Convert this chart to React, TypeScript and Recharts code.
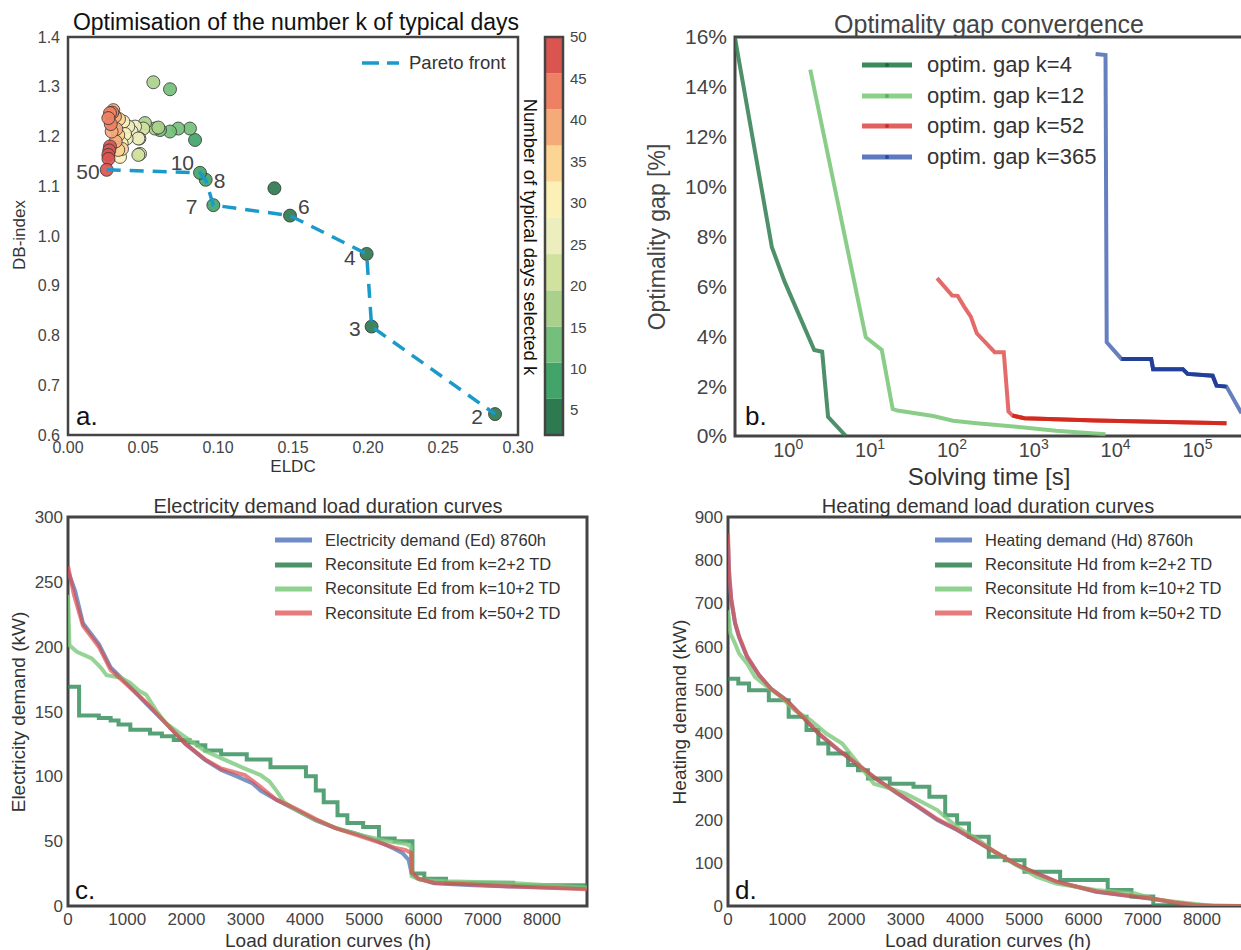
import React from "react";
import { ScatterChart, Scatter, LineChart, Line, XAxis, YAxis, ReferenceArea, Legend } from "recharts";

const FONT = '"Liberation Sans", Arial, Helvetica, sans-serif';
const FRAME = "#444444";
const TICK = "#444444";

// ---- a. choice of k ----
const kDays = [2, 3, 4, 5, 6, 7, 8, 9, 10, 11, 12, 13, 14, 15, 16, 17, 18, 19, 20, 21, 22, 23, 24, 25, 26,
  27, 28, 29, 30, 31, 32, 33, 34, 35, 36, 37, 38, 39, 40, 41, 42, 43, 44, 45, 46, 47, 48, 49, 50];
const eldc = [0.2847, 0.2024, 0.1991, 0.1376, 0.148, 0.0969, 0.0918, 0.0847, 0.088, 0.0813, 0.0735, 0.068,
  0.068, 0.0613, 0.058, 0.0569, 0.0602, 0.0513, 0.0502, 0.048, 0.0476, 0.0469, 0.0447, 0.0424, 0.0469,
  0.0391, 0.0402, 0.0369, 0.038, 0.0358, 0.0347, 0.036, 0.0335, 0.0335, 0.034, 0.0313, 0.0322, 0.0302,
  0.0318, 0.0291, 0.0295, 0.028, 0.0285, 0.0269, 0.028, 0.0275, 0.0269, 0.027, 0.0258];
const dbIndex = [0.642, 0.818, 0.964, 1.096, 1.041, 1.062, 1.113, 1.193, 1.127, 1.216, 1.216, 1.295,
  1.21, 1.213, 1.216, 1.309, 1.218, 1.227, 1.216, 1.165, 1.196, 1.163, 1.22, 1.21, 1.196, 1.196, 1.22,
  1.23, 1.205, 1.186, 1.159, 1.175, 1.203, 1.173, 1.235, 1.24, 1.215, 1.253, 1.19, 1.21, 1.248, 1.247,
  1.225, 1.237, 1.18, 1.172, 1.163, 1.155, 1.133];
const paretoDays = [50, 10, 8, 7, 6, 4, 3, 2];
const eldcTicks = [0, 0.05, 0.1, 0.15, 0.2, 0.25, 0.3];
const dbTicks = [0.6, 0.7, 0.8, 0.9, 1.0, 1.1, 1.2, 1.3, 1.4];
const cbEdges = [2, 6.36, 10.73, 15.09, 19.45, 23.82, 28.18, 32.55, 36.91, 41.27, 45.64, 50];
const cbColors = ["#2e7a50", "#43a46a", "#74bf7b", "#a9d18b", "#d1e29e", "#edeec0", "#fbf1b7",
  "#fcd595", "#f5aa79", "#ee8063", "#da5550"];
const cbTicks = [5, 10, 15, 20, 25, 30, 35, 40, 45, 50];

// ---- b. optimality gap ----
const gapK4T = [0.224, 0.632, 0.904, 2.08, 2.6, 3.07, 5.07];
const gapK4 = [15.96, 7.57, 6.19, 3.45, 3.38, 0.77, 0];
const gapK12T = [1.86, 8.86, 13.9, 18.9, 21.6, 59, 103, 201, 612, 1866, 7520];
const gapK12 = [14.69, 3.96, 3.45, 1.08, 1.02, 0.8, 0.61, 0.51, 0.37, 0.21, 0.07];
const gapK52T = [65.9, 100.7, 117.7, 141, 170, 201, 333, 430, 491, 549, 767, 5690, 226000];
const gapK52 = [6.33, 5.63, 5.62, 5.19, 4.79, 4.12, 3.36, 3.36, 0.98, 0.82, 0.71, 0.62, 0.51];
const gapK365T = [5690, 7520, 7780, 11770, 27200, 28700, 66200, 75700, 153000, 171000, 226000, 345000];
const gapK365 = [15.32, 15.28, 3.76, 3.09, 3.09, 2.68, 2.68, 2.49, 2.42, 2.02, 1.98, 0.91];
const gapXTicks = [1, 10, 100, 1000, 10000, 100000];
const gapYTicks = [0, 2, 4, 6, 8, 10, 12, 14, 16];

// ---- c. electricity load duration ----
const hourTicks = [0, 1000, 2000, 3000, 4000, 5000, 6000, 7000, 8000];
const elecTicks = [0, 50, 100, 150, 200, 250, 300];
const edFull = [[0, 258], [120, 243], [253, 218], [520, 202], [720, 184], [986, 172], [1320, 156], [1650, 141],
  [1985, 125], [2318, 112.5], [2585, 105], [2850, 100], [3117, 94.5], [3250, 89], [3517, 82], [3850, 74],
  [4183, 66], [4515, 60], [4850, 56], [5180, 51], [5515, 44], [5650, 40.6], [5750, 35.5], [5800, 25],
  [5915, 21], [6180, 17.5], [6847, 16], [7513, 15], [8760, 13.5]];
const edK2 = [[0, 169], [187, 147], [520, 145], [720, 143], [853, 140], [1052, 136], [1385, 133], [1585, 131],
  [1785, 128], [2051, 126], [2185, 124], [2318, 120], [2584, 117], [3017, 113], [3417, 107], [4016, 100],
  [4183, 89], [4316, 80], [4549, 70], [4715, 64], [4982, 61], [5248, 52], [5514, 50], [5814, 25],
  [6014, 21], [6380, 18], [7513, 16], [8760, 15]];
const edK10 = [[0, 240], [25, 201], [150, 196], [400, 191], [550, 184], [650, 178], [900, 176], [1050, 172],
  [1200, 166], [1320, 163], [1500, 150], [1650, 141], [1985, 130], [2300, 120], [2585, 114], [2985, 106],
  [3250, 101], [3400, 96], [3517, 89], [3650, 80], [3850, 74], [4200, 66], [4600, 59], [5000, 54],
  [5400, 50], [5700, 48], [5790, 46], [5800, 23], [5950, 20], [6400, 19], [7400, 18], [8760, 14]];
const edK50 = [[0, 262], [100, 240], [253, 216], [520, 200], [720, 182], [986, 171], [1320, 157], [1650, 141],
  [1985, 125], [2318, 113], [2585, 106], [2985, 101], [3250, 92], [3517, 82], [3850, 75], [4183, 67],
  [4515, 60], [4850, 55], [5180, 50], [5515, 45], [5700, 43], [5790, 41], [5800, 26], [5915, 21],
  [6180, 18], [6847, 16.5], [7513, 15], [8760, 13]];

// ---- d. heating load duration ----
const heatTicks = [0, 100, 200, 300, 400, 500, 600, 700, 800, 900];
const hdFull = [[0, 840], [20, 760], [54, 707], [120, 653], [187, 622], [321, 576], [522, 534], [722, 503],
  [990, 476], [1258, 438], [1525, 399], [1860, 361], [2194, 326], [2529, 291], [2863, 260], [3198, 230],
  [3532, 199], [3867, 176], [4201, 149], [4536, 122], [4870, 95], [5205, 75.5], [5539, 56], [5874, 45],
  [6208, 33], [6543, 27], [6877, 21.6], [7212, 15.4], [7546, 7.7], [7881, 2.3], [8215, 0], [8760, 0]];
const hdK2 = [[0, 526], [174, 515], [355, 499], [689, 476], [1024, 438], [1325, 407], [1525, 376], [1693, 353],
  [2027, 326], [2194, 314], [2362, 295], [2730, 283], [3131, 276], [3399, 253], [3666, 210], [3867, 191],
  [4068, 160], [4402, 114], [4670, 106], [5004, 79], [5606, 60], [6409, 37], [6810, 22], [7178, 2],
  [7500, 0], [8760, 0]];
const hdK10 = [[0, 684], [40, 630], [120, 607], [187, 584], [321, 561], [455, 530], [589, 515], [856, 488],
  [1124, 453], [1392, 430], [1659, 399], [1927, 376], [2194, 330], [2462, 283], [2730, 272], [2997, 260],
  [3265, 241], [3532, 222], [3867, 183], [4201, 156], [4536, 122], [4870, 95], [5205, 68], [5539, 52],
  [6208, 37], [6877, 29], [7212, 15], [7546, 10], [8081, 1.5], [8760, 0]];
const hdK50 = [[0, 861], [15, 780], [54, 712], [120, 656], [187, 624], [321, 578], [522, 535], [722, 503],
  [990, 475], [1258, 438], [1525, 400], [1860, 362], [2194, 327], [2529, 292], [2863, 261], [3198, 232],
  [3532, 201], [3867, 177], [4201, 150], [4536, 123], [4870, 96], [5205, 76], [5539, 57], [5874, 45],
  [6208, 34], [6543, 28], [6877, 22], [7212, 16], [7546, 8], [7881, 2.5], [8215, 0], [8760, 0]];

const dayPoints = kDays.map((k, i) => ({ k, eldc: eldc[i], db: dbIndex[i] }));
const paretoPoints = paretoDays.map((k) => dayPoints.find((p) => p.k === k)!);
const cbMid = cbColors.map((_, i) => ({ x: 0.5, y: (cbEdges[i] + cbEdges[i + 1]) / 2 }));
const gapRows = (t: number[], g: number[]) => t.map((v, i) => ({ t: v, gap: g[i] }));
const ldcRows = (pairs: number[][]) => pairs.map(([h, kw]) => ({ h, kw }));

const binColor = (k: number) => {
  for (let i = 0; i < cbColors.length; i++) if (k <= cbEdges[i + 1]) return cbColors[i];
  return cbColors[cbColors.length - 1];
};

const labelPos: Record<number, { dx: number; dy: number; anchor: "start" | "end" }> = {
  50: { dx: -7, dy: 9, anchor: "end" },
  10: { dx: -6, dy: -3, anchor: "end" },
  8: { dx: 8, dy: 8.5, anchor: "start" },
  7: { dx: -16, dy: 8.5, anchor: "end" },
  6: { dx: 8, dy: -2, anchor: "start" },
  4: { dx: -11, dy: 11.5, anchor: "end" },
  3: { dx: -11, dy: 9, anchor: "end" },
  2: { dx: -12, dy: 10, anchor: "end" },
};

const DayDot = (p: any) => (
  <circle cx={p.cx} cy={p.cy} r={6.5} fill={binColor(p.payload.k)} fillOpacity={0.92} stroke="#333" strokeWidth={0.8} />
);

const ParetoLabel = (p: any) => {
  const o = labelPos[p.payload.k];
  return (
    <text x={p.cx + o.dx} y={p.cy + o.dy} textAnchor={o.anchor} fontSize={21} fill="#444" fontFamily={FONT}>
      {p.payload.k}
    </text>
  );
};

const PowTick = (p: any) => {
  const e = Math.round(Math.log10(p.payload.value));
  return (
    <text x={p.x} y={p.y + 21} textAnchor="middle" fill={TICK} fontSize={20} fontFamily={FONT}>
      10<tspan dy={-8} fontSize={14}>{e}</tspan>
    </text>
  );
};

type Item = { name: string; color: string; dot?: string; dash?: string };

const LegendBox = ({ items, fontSize, rowH, sample, gap, width }: { items: Item[]; fontSize: number; rowH: number; sample: number; gap: number; width: number }) => (
  <div style={{ fontFamily: FONT, fontSize, color: "#333", whiteSpace: "nowrap" }}>
    {items.map((it) => (
      <div key={it.name} style={{ display: "flex", alignItems: "center", height: rowH }}>
        <svg width={sample} height={12} style={{ marginRight: gap }}>
          <line x1={0} y1={6} x2={sample} y2={6} stroke={it.color} strokeWidth={width} strokeDasharray={it.dash} />
          {it.dot && <circle cx={sample / 2} cy={6} r={2} fill={it.dot} />}
        </svg>
        <span>{it.name}</span>
      </div>
    ))}
  </div>
);

const tickStyle = (size: number) => ({ fill: TICK, fontSize: size, fontFamily: FONT });

const gapItems: Item[] = [
  { name: "optim. gap k=4", color: "#3c8a5c", dot: "#1f6a3d" },
  { name: "optim. gap k=12", color: "#8acf8a", dot: "#5db05d" },
  { name: "optim. gap k=52", color: "#e36060", dot: "#c43030" },
  { name: "optim. gap k=365", color: "#5d7abf", dot: "#2a4a9f" },
];
const elecItems: Item[] = [
  { name: "Electricity demand (Ed) 8760h", color: "#6f8cc8" },
  { name: "Reconsitute Ed from k=2+2 TD", color: "#4b9468" },
  { name: "Reconsitute Ed from k=10+2 TD", color: "#8fd18f" },
  { name: "Reconsitute Ed from k=50+2 TD", color: "#e77b7b" },
];
const heatItems: Item[] = [
  { name: "Heating demand (Hd) 8760h", color: "#6f8cc8" },
  { name: "Reconsitute Hd from k=2+2 TD", color: "#4b9468" },
  { name: "Reconsitute Hd from k=10+2 TD", color: "#8fd18f" },
  { name: "Reconsitute Hd from k=50+2 TD", color: "#e77b7b" },
];

const LdcPanel = ({ left, width, yMax, yTicks, full, k2, k10, k50, items, legendLeft }: any) => (
  <div style={{ position: "absolute", left, top: 490 }}>
    <LineChart width={width} height={460} margin={{ top: 27, right: 13, bottom: 14, left: left === 0 ? 8 : 48 }}>
      <XAxis type="number" dataKey="h" domain={[0, 8760]} ticks={hourTicks} height={30} axisLine={false}
        tickLine={false} tickSize={0} tickMargin={7} tick={tickStyle(17)} allowDataOverflow />
      <YAxis type="number" dataKey="kw" domain={[0, yMax]} ticks={yTicks} width={60} axisLine={false}
        tickLine={false} tickSize={0} tickMargin={5} tick={tickStyle(17)} allowDataOverflow />
      <Line data={ldcRows(full)} dataKey="kw" type="linear" stroke="#4c72b0" strokeOpacity={0.75} strokeWidth={4} dot={false} isAnimationActive={false} />
      <Line data={ldcRows(k2)} dataKey="kw" type="stepAfter" stroke="#2d8a55" strokeOpacity={0.8} strokeWidth={4} dot={false} isAnimationActive={false} />
      <Line data={ldcRows(k10)} dataKey="kw" type="linear" stroke="#7cc87c" strokeOpacity={0.8} strokeWidth={4} dot={false} isAnimationActive={false} />
      <Line data={ldcRows(k50)} dataKey="kw" type="linear" stroke="#df4f4f" strokeOpacity={0.7} strokeWidth={4} dot={false} isAnimationActive={false} />
      <ReferenceArea x1={0} x2={8760} y1={0} y2={yMax} fill="none" stroke={FRAME} strokeWidth={3} ifOverflow="visible" />
      <Legend layout="vertical" align="center" verticalAlign="middle"
        wrapperStyle={{ left: legendLeft, top: 38, width: 320 }}
        content={() => <LegendBox items={items} fontSize={16.5} rowH={24.4} sample={37} gap={13} width={5} />} />
    </LineChart>
  </div>
);

export default function App() {
  return (
    <div style={{ position: "absolute", left: 0, top: 0, width: 1241, height: 950, overflow: "hidden", background: "#fff", fontFamily: FONT }}>
      {/* a. */}
      <div style={{ position: "absolute", left: 0, top: 0 }}>
        <ScatterChart width={540} height={470} margin={{ top: 37, right: 22, bottom: 5, left: 8 }}>
          <XAxis type="number" dataKey="eldc" domain={[0, 0.3]} ticks={eldcTicks} tickFormatter={(v: number) => v.toFixed(2)}
            height={30} axisLine={false} tickLine={false} tickSize={0} tickMargin={7} tick={tickStyle(16)} allowDataOverflow />
          <YAxis type="number" dataKey="db" domain={[0.6, 1.4]} ticks={dbTicks} tickFormatter={(v: number) => v.toFixed(1)}
            width={60} axisLine={false} tickLine={false} tickSize={0} tickMargin={8} tick={tickStyle(16)} allowDataOverflow />
          <Scatter data={dayPoints} shape={DayDot} isAnimationActive={false} legendType="none" />
          <Scatter name="Pareto front" data={paretoPoints} fill="#1a9ac9" shape={ParetoLabel} isAnimationActive={false}
            line={{ stroke: "#1a9ac9", strokeWidth: 3.5, strokeDasharray: "14 9" }} />
          <ReferenceArea x1={0} x2={0.3} y1={0.6} y2={1.4} fill="none" stroke={FRAME} strokeWidth={2.5} ifOverflow="visible" />
          <Legend layout="vertical" align="center" verticalAlign="middle" wrapperStyle={{ left: 362, top: 51, width: 160 }}
            content={() => <LegendBox items={[{ name: "Pareto front", color: "#1a9ac9", dash: "17 8" }]} fontSize={18.5} rowH={24} sample={37} gap={10} width={3.5} />} />
        </ScatterChart>
      </div>

      {/* colour bar */}
      <div style={{ position: "absolute", left: 520, top: 0 }}>
        <ScatterChart width={100} height={470} margin={{ top: 37, right: 0, bottom: 35, left: 25 }}>
          <XAxis type="number" dataKey="x" domain={[0, 1]} hide />
          <YAxis type="number" dataKey="y" orientation="right" domain={[2, 50]} ticks={cbTicks} width={57}
            axisLine={false} tickLine={false} tickSize={0} tickMargin={7} tick={tickStyle(15)} />
          {cbColors.map((c, i) => (
            <ReferenceArea key={c} x1={0} x2={1} y1={cbEdges[i]} y2={cbEdges[i + 1]} fill={c} fillOpacity={1} stroke="none" />
          ))}
          <Scatter data={cbMid} shape={() => <g />} isAnimationActive={false} legendType="none" />
          <ReferenceArea x1={0} x2={1} y1={2} y2={50} fill="none" stroke={FRAME} strokeWidth={2.5} ifOverflow="visible" />
        </ScatterChart>
      </div>

      {/* b. */}
      <div style={{ position: "absolute", left: 620, top: 0 }}>
        <LineChart width={643} height={490} margin={{ top: 37, right: 0, bottom: 24, left: 55 }}>
          <XAxis type="number" dataKey="t" scale="log" domain={[0.224, 631000]} ticks={gapXTicks} tick={<PowTick />}
            height={30} axisLine={false} tickLine={false} tickSize={0} tickMargin={0} allowDataOverflow />
          <YAxis type="number" dataKey="gap" domain={[0, 16]} ticks={gapYTicks} tickFormatter={(v: number) => `${v}%`}
            width={60} axisLine={false} tickLine={false} tickSize={0} tickMargin={8} tick={tickStyle(21)} allowDataOverflow />
          <Line data={gapRows(gapK4T, gapK4)} dataKey="gap" stroke="#2e7d4f" strokeOpacity={0.85} strokeWidth={4} dot={false} isAnimationActive={false} />
          <Line data={gapRows(gapK12T, gapK12)} dataKey="gap" stroke="#74c474" strokeOpacity={0.85} strokeWidth={4} dot={false} isAnimationActive={false} />
          <Line data={gapRows(gapK52T, gapK52)} dataKey="gap" stroke="#e05050" strokeOpacity={0.85} strokeWidth={4} dot={false} isAnimationActive={false} />
          <Line data={gapRows(gapK52T, gapK52).slice(9)} dataKey="gap" stroke="#d42b20" strokeWidth={4} dot={false} isAnimationActive={false} legendType="none" />
          <Line data={gapRows(gapK365T, gapK365)} dataKey="gap" stroke="#5572b8" strokeOpacity={0.9} strokeWidth={4} dot={false} isAnimationActive={false} />
          <Line data={gapRows(gapK365T, gapK365).slice(3, 11)} dataKey="gap" stroke="#22409a" strokeWidth={4} dot={false} isAnimationActive={false} legendType="none" />
          <ReferenceArea x1={0.224} x2={631000} y1={0} y2={16} fill="none" stroke={FRAME} strokeWidth={3} ifOverflow="visible" />
          <Legend layout="vertical" align="center" verticalAlign="middle" wrapperStyle={{ left: 242, top: 50, width: 260 }}
            content={() => <LegendBox items={gapItems} fontSize={22} rowH={30.5} sample={50} gap={15} width={5} />} />
        </LineChart>
      </div>

      {/* c. and d. */}
      <LdcPanel left={0} width={600} yMax={300} yTicks={elecTicks} full={edFull} k2={edK2} k10={edK10} k50={edK50} items={elecItems} legendLeft={275} />
      <LdcPanel left={620} width={640} yMax={900} yTicks={heatTicks} full={hdFull} k2={hdK2} k10={hdK10} k50={hdK50} items={heatItems} legendLeft={315} />

      {/* titles, axis names, panel letters */}
      <svg width={1241} height={950} style={{ position: "absolute", left: 0, top: 0, pointerEvents: "none" }} fontFamily={FONT}>
        <text x={296} y={30} textAnchor="middle" fontSize={23} fill="#111">Optimisation of the number k of typical days</text>
        <text x={293} y={472} textAnchor="middle" fontSize={17} fill="#333">ELDC</text>
        <text x={19} y={235} textAnchor="middle" dominantBaseline="central" fontSize={17} fill="#333" transform="rotate(-90 19 235)">DB-index</text>
        <text x={530} y={237} textAnchor="middle" dominantBaseline="central" fontSize={18.5} fill="#111" transform="rotate(90 530 237)">Number of typical days selected k</text>
        <text x={76} y={425} fontSize={26} fill="#111">a.</text>

        <text x={989} y={33} textAnchor="middle" fontSize={25} fill="#444">Optimality gap convergence</text>
        <text x={657} y={237} textAnchor="middle" dominantBaseline="central" fontSize={23} fill="#444" transform="rotate(-90 657 237)">Optimality gap [%]</text>
        <text x={989} y={485} textAnchor="middle" fontSize={24} fill="#333">Solving time [s]</text>
        <text x={745} y={425} fontSize={26} fill="#111">b.</text>

        <text x={328} y={513} textAnchor="middle" fontSize={20} fill="#333">Electricity demand load duration curves</text>
        <text x={18} y={712} textAnchor="middle" dominantBaseline="central" fontSize={19} fill="#333" transform="rotate(-90 18 712)">Electricity demand (kW)</text>
        <text x={328} y={947} textAnchor="middle" fontSize={19} fill="#333">Load duration curves (h)</text>
        <text x={75} y={899} fontSize={26} fill="#111">c.</text>

        <text x={988} y={513} textAnchor="middle" fontSize={20} fill="#333">Heating demand load duration curves</text>
        <text x={679} y={712} textAnchor="middle" dominantBaseline="central" fontSize={19} fill="#333" transform="rotate(-90 679 712)">Heating demand (kW)</text>
        <text x={988} y={947} textAnchor="middle" fontSize={19} fill="#333">Load duration curves (h)</text>
        <text x={735} y={899} fontSize={26} fill="#111">d.</text>
      </svg>
    </div>
  );
}
